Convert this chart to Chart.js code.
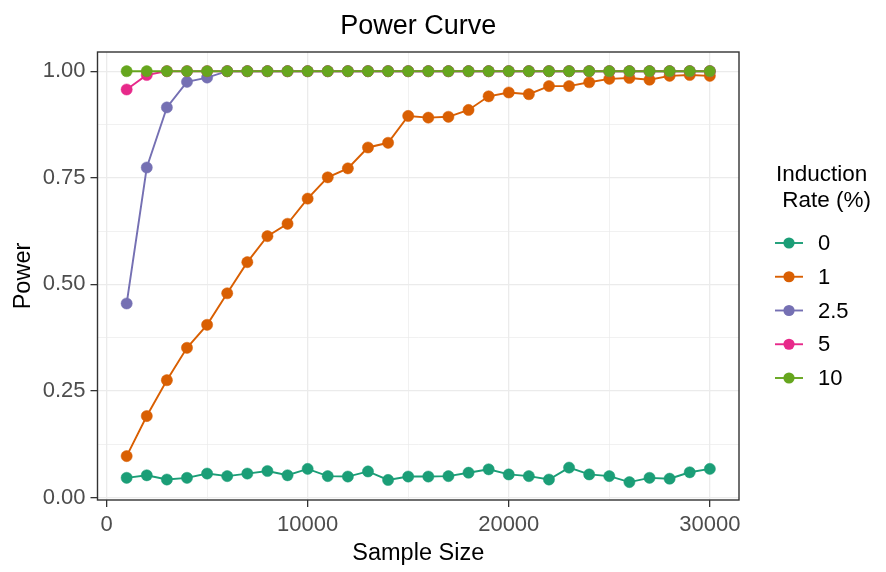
<!DOCTYPE html>
<html>
<head>
<meta charset="utf-8">
<script src="https://cdn.jsdelivr.net/npm/chart.js@4.4.0/dist/chart.umd.min.js"></script>
<style>
html,body{margin:0;padding:0;background:#ffffff;}
canvas{display:block;}
</style>
</head>
<body>
<canvas id="c" width="886" height="572" style="width:886px;height:572px;"></canvas>
<script>
// ---- Data ----
const chartTitle = 'Power Curve';
const xAxisTitle = 'Sample Size';
const yAxisTitle = 'Power';
const legendTitleLines = ['Induction', ' Rate (%)'];
const seriesLabels = ['0', '1', '2.5', '5', '10'];

const sampleSizes = [1000, 2000, 3000, 4000, 5000, 6000, 7000, 8000, 9000, 10000,
  11000, 12000, 13000, 14000, 15000, 16000, 17000, 18000, 19000, 20000,
  21000, 22000, 23000, 24000, 25000, 26000, 27000, 28000, 29000, 30000];

const power0 = [0.046, 0.052, 0.042, 0.046, 0.056, 0.050, 0.056, 0.062, 0.052, 0.067,
  0.050, 0.049, 0.061, 0.041, 0.049, 0.049, 0.050, 0.058, 0.066, 0.054,
  0.050, 0.042, 0.070, 0.054, 0.050, 0.036, 0.046, 0.044, 0.059, 0.067];

const power1 = [0.097, 0.191, 0.275, 0.351, 0.405, 0.479, 0.552, 0.613, 0.642, 0.701,
  0.751, 0.772, 0.821, 0.832, 0.895, 0.891, 0.893, 0.909, 0.941, 0.950,
  0.946, 0.965, 0.965, 0.974, 0.982, 0.984, 0.980, 0.989, 0.991, 0.989];

const power2_5 = [0.455, 0.774, 0.915, 0.975, 0.985, 1, 1, 1, 1, 1,
  1, 1, 1, 1, 1, 1, 1, 1, 1, 1,
  1, 1, 1, 1, 1, 1, 1, 1, 1, 1];

const power5 = [0.957, 0.991, 1, 1, 1, 1, 1, 1, 1, 1,
  1, 1, 1, 1, 1, 1, 1, 1, 1, 1,
  1, 1, 1, 1, 1, 1, 1, 1, 1, 1];

const power10 = [1, 1, 1, 1, 1, 1, 1, 1, 1, 1,
  1, 1, 1, 1, 1, 1, 1, 1, 1, 1,
  1, 1, 1, 1, 1, 1, 1, 1, 1, 1];

// grid positions (major ones carry labels)
const xGridValues = [0, 5000, 10000, 15000, 20000, 25000, 30000];
const xTickLabelValues = [0, 10000, 20000, 30000];
const yGridValues = [0, 0.125, 0.25, 0.375, 0.5, 0.625, 0.75, 0.875, 1];
const yTickLabelValues = [0, 0.25, 0.5, 0.75, 1];

// ---- Styling ----
const palette = ['#1B9E77', '#D95F02', '#7570B3', '#E7298A', '#66A61E'];
const FONT = "'Liberation Sans', Arial, Helvetica, sans-serif";
const seriesValues = [power0, power1, power2_5, power5, power10];

const datasets = seriesValues.map((vals, i) => ({
  label: seriesLabels[i],
  data: sampleSizes.map((x, j) => ({ x: x, y: vals[j] })),
  borderColor: palette[i],
  backgroundColor: palette[i],
  pointBackgroundColor: palette[i],
  pointBorderColor: palette[i],
  borderWidth: 1.9,
  pointRadius: 5.6,
  pointBorderWidth: 0.5,
  pointHoverRadius: 5.6,
  tension: 0,
  order: seriesValues.length - 1 - i
}));

const isIn = (arr, v) => arr.some(a => Math.abs(a - v) < 1e-9);

const decorPlugin = {
  id: 'decor',
  afterDatasetsDraw(chart) {
    const { ctx, chartArea: a } = chart;
    ctx.save();
    ctx.strokeStyle = '#333333';
    ctx.lineWidth = 1.4;
    ctx.strokeRect(a.left, a.top, a.right - a.left, a.bottom - a.top);
    ctx.restore();
  },
  afterDraw(chart) {
    const { ctx, chartArea: a } = chart;
    ctx.save();
    // Title
    ctx.fillStyle = '#000000';
    ctx.font = '27px ' + FONT;
    ctx.textAlign = 'center';
    ctx.textBaseline = 'alphabetic';
    ctx.fillText(chartTitle, (a.left + a.right) / 2, 33.5);

    // Legend
    const lx = a.right + 37;
    ctx.textAlign = 'left';
    ctx.textBaseline = 'middle';
    ctx.font = '22.5px ' + FONT;
    ctx.fillText(legendTitleLines[0], lx, 175);
    ctx.fillText(legendTitleLines[1], lx, 201);

    ctx.font = '22px ' + FONT;
    chart.data.datasets.forEach((ds, i) => {
      const y = 243 + i * 33.75;
      ctx.strokeStyle = ds.borderColor;
      ctx.lineWidth = 1.9;
      ctx.beginPath();
      ctx.moveTo(lx - 1, y);
      ctx.lineTo(lx + 27, y);
      ctx.stroke();
      ctx.fillStyle = ds.backgroundColor;
      ctx.beginPath();
      ctx.arc(lx + 13, y, 5.6, 0, Math.PI * 2);
      ctx.fill();
      ctx.fillStyle = '#000000';
      ctx.fillText(ds.label, lx + 42, y + 1);
    });
    ctx.restore();
  }
};

new Chart(document.getElementById('c'), {
  type: 'line',
  data: { datasets: datasets },
  options: {
    responsive: false,
    animation: false,
    devicePixelRatio: 1,
    layout: { padding: { left: 0, right: 147, top: 52, bottom: 0 } },
    plugins: {
      legend: { display: false },
      title: { display: false },
      tooltip: { enabled: false }
    },
    scales: {
      x: {
        type: 'linear',
        min: -450,
        max: 31450,
        afterBuildTicks(scale) { scale.ticks = xGridValues.map(v => ({ value: v })); },
        afterFit(scale) { scale.height = 72; },
        border: { display: false },
        grid: {
          color: '#EBEBEB',
          lineWidth: c => isIn(xTickLabelValues, c.tick.value) ? 1.3 : 0.7,
          tickColor: c => isIn(xTickLabelValues, c.tick.value) ? '#333333' : 'rgba(0,0,0,0)',
          tickWidth: 1.3,
          tickLength: 7,
          drawTicks: true
        },
        ticks: {
          autoSkip: false,
          maxRotation: 0,
          minRotation: 0,
          padding: 5,
          color: '#4D4D4D',
          font: { family: FONT, size: 22 },
          callback: v => isIn(xTickLabelValues, v) ? String(v) : ''
        },
        title: {
          display: true,
          text: xAxisTitle,
          color: '#000000',
          font: { family: FONT, size: 23.5 },
          padding: { top: 0, bottom: 4.5 }
        }
      },
      y: {
        type: 'linear',
        min: -0.006,
        max: 1.045,
        afterBuildTicks(scale) { scale.ticks = yGridValues.map(v => ({ value: v })); },
        afterFit(scale) { scale.width = 97.5; },
        border: { display: false },
        grid: {
          color: '#EBEBEB',
          lineWidth: c => isIn(yTickLabelValues, c.tick.value) ? 1.3 : 0.7,
          tickColor: c => isIn(yTickLabelValues, c.tick.value) ? '#333333' : 'rgba(0,0,0,0)',
          tickWidth: 1.3,
          tickLength: 7,
          drawTicks: true
        },
        ticks: {
          autoSkip: false,
          padding: 5,
          color: '#4D4D4D',
          font: { family: FONT, size: 22 },
          callback: v => isIn(yTickLabelValues, v) ? v.toFixed(2) : ''
        },
        title: {
          display: true,
          text: yAxisTitle,
          color: '#000000',
          font: { family: FONT, size: 23.5 },
          padding: { top: 9, bottom: 0 }
        }
      }
    }
  },
  plugins: [decorPlugin]
});
</script>
</body>
</html>
